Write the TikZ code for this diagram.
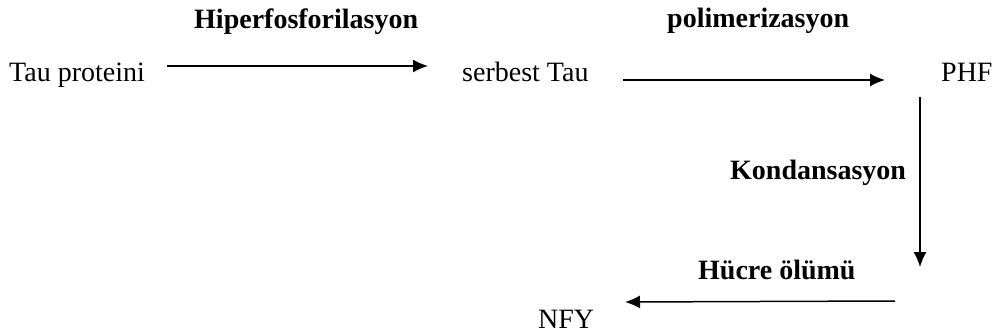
\documentclass[tikz,border=0pt]{standalone}
\usepackage{fontspec}
\setmainfont{Liberation Serif}
\usetikzlibrary{arrows.meta}
\begin{document}
\begin{tikzpicture}[x=1pt,y=-1pt,
  lbl/.style={inner sep=0pt,anchor=base west,font=\fontsize{28}{34}\selectfont},
  blbl/.style={lbl,font=\fontsize{28}{34}\selectfont\bfseries},
  arr/.style={line width=1.5pt,-{Latex[length=15pt,width=13pt]}}]
\useasboundingbox (0,0) rectangle (997,334);
\node[lbl] (tau) at (9,82) {Tau proteini};
\node[lbl] (serb) at (462,82) {serbest Tau};
\node[lbl] (phf) at (941,82) {PHF};
\node[lbl,text depth=0pt] (nfy) at (538,328) {NFY};
\node[blbl] (hip) at (194,29) {Hiperfosforilasyon};
\node[blbl] (pol) at (667,28) {polimerizasyon};
\node[blbl] (kon) at (730,180) {Kondansasyon};
\node[blbl] (huc) at (698,279) {Hücre ölümü};
\coordinate (a1s) at (167,66);
\coordinate (a1e) at (428,66);
\coordinate (a2s) at (623,80);
\coordinate (a2e) at (885,80);
\coordinate (a3s) at (920,97);
\coordinate (a3e) at (920,267);
\coordinate (a4s) at (895,301);
\coordinate (a4e) at (625,302);
\draw[arr] (a1s) -- (a1e);
\draw[arr] (a2s) -- (a2e);
\draw[arr] (a3s) -- (a3e);
\draw[arr] (a4s) -- (a4e);
\end{tikzpicture}
\end{document}
